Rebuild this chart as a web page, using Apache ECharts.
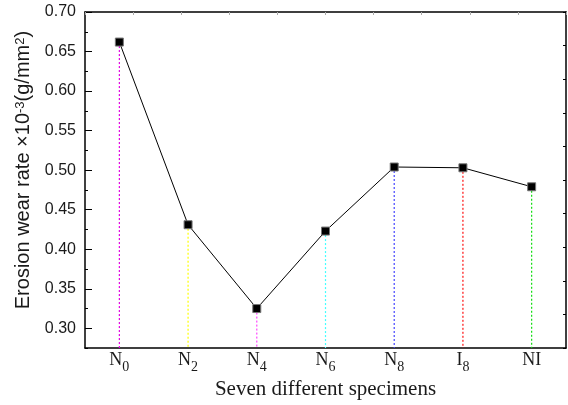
<!DOCTYPE html>
<html>
<head>
<meta charset="utf-8">
<script src="https://cdn.jsdelivr.net/npm/echarts@6/dist/echarts.min.js"></script>
<style>
  html, body { margin: 0; padding: 0; background: #fff; }
  #chart { width: 568px; height: 405px; }
</style>
</head>
<body>
<div id="chart"></div>
<script>
// specimens along the bottom axis (trailing digit drawn as subscript)
var specimens = ['N0', 'N2', 'N4', 'N6', 'N8', 'I8', 'NI'];
// erosion wear rate, x10^-3 g/mm^2
var wearRate = [0.662, 0.431, 0.325, 0.423, 0.504, 0.503, 0.479];
// colour of each dashed drop line
var dropColors = ['#e000e0', '#ffff00', '#ff44ff', '#44ffff', '#4444ff', '#ff1010', '#10dd10'];
// labelled ticks on the y axis
var yMajor = [0.30, 0.35, 0.40, 0.45, 0.50, 0.55, 0.60, 0.65, 0.70];
var yMin = 0.275, yMax = 0.70;

var chart = echarts.init(document.getElementById('chart'));

var sans = 'Liberation Sans';
var serif = 'Liberation Serif';
var ink = '#1a1a1a';

// one dashed drop line per specimen, from its point down to the axis
var dropSeries = specimens.map(function (c, i) {
    return {
        type: 'line',
        z: 1,
        silent: true,
        symbol: 'none',
        data: [[c, wearRate[i]], [c, yMin]],
        lineStyle: { color: dropColors[i], width: 1.2, type: [2, 2] }
    };
});

chart.setOption({
    animation: false,
    backgroundColor: '#fff',
    grid: { left: 85, right: 2, top: 12, bottom: 55 },
    xAxis: [{
        type: 'category',
        data: specimens,
        boundaryGap: true,
        name: 'Seven different specimens',
        nameLocation: 'middle',
        nameGap: 24,
        nameTextStyle: { fontFamily: serif, fontSize: 21, color: ink },
        axisLine: { lineStyle: { color: '#000', width: 1.5 } },
        axisTick: { inside: true, length: 3, lineStyle: { color: '#aaa' } },
        axisLabel: {
            margin: 3,
            formatter: function (v) {
                var m = v.match(/^(\D+)(\d*)$/);
                return '{b|' + m[1] + '}' + (m[2] ? '{s|' + m[2] + '}' : '');
            },
            rich: {
                b: { fontFamily: serif, fontSize: 18, lineHeight: 18, color: ink, verticalAlign: 'top' },
                s: { fontFamily: serif, fontSize: 14, lineHeight: 14, color: ink, verticalAlign: 'top', padding: [9, 0, 0, 0] }
            }
        },
        splitLine: { show: false }
    }, {
        type: 'value',
        position: 'top',
        min: 0, max: 10, interval: 1,
        axisLine: { show: true, lineStyle: { color: '#000', width: 1.5 } },
        axisTick: { inside: true, length: 3, lineStyle: { color: '#aaa' } },
        axisLabel: { show: false },
        splitLine: { show: false }
    }],
    yAxis: [{
        type: 'value',
        min: yMin, max: yMax,
        name: 'Erosion wear rate ×10{sup|-3}(g/mm{sup|2})',
        nameLocation: 'middle',
        nameGap: 46,
        nameRotate: 90,
        nameTextStyle: {
            fontFamily: sans, fontSize: 20, color: ink,
            padding: [0, 0, 0, 20],
            rich: {
                sup: { fontFamily: sans, fontSize: 13, color: ink, verticalAlign: 'top', lineHeight: 13 }
            }
        },
        axisLine: { show: true, lineStyle: { color: '#000', width: 1.5 } },
        axisTick: { inside: true, length: 7, customValues: yMajor, lineStyle: { color: '#000' } },
        axisLabel: {
            customValues: yMajor,
            margin: 9,
            fontFamily: sans, fontSize: 16, color: ink,
            formatter: function (v) { return v.toFixed(2); }
        },
        splitLine: { show: false }
    }, {
        type: 'value',
        position: 'left',
        min: yMin, max: yMax, interval: 0.025,
        axisLine: { show: false },
        axisTick: { inside: true, length: 3, lineStyle: { color: '#000' } },
        axisLabel: { show: false },
        splitLine: { show: false }
    }, {
        type: 'value',
        position: 'right',
        min: 0, max: 10, interval: 1,
        axisLine: { show: true, lineStyle: { color: '#000', width: 1.5 } },
        axisTick: { inside: true, length: 3, lineStyle: { color: '#000' } },
        axisLabel: { show: false },
        splitLine: { show: false }
    }],
    series: dropSeries.concat([{
        type: 'line',
        z: 3,
        data: wearRate,
        symbol: 'rect',
        symbolSize: 8,
        lineStyle: { color: '#000', width: 1 },
        itemStyle: { color: '#000', borderColor: '#777', borderWidth: 1 }
    }])
});
</script>
</body>
</html>
